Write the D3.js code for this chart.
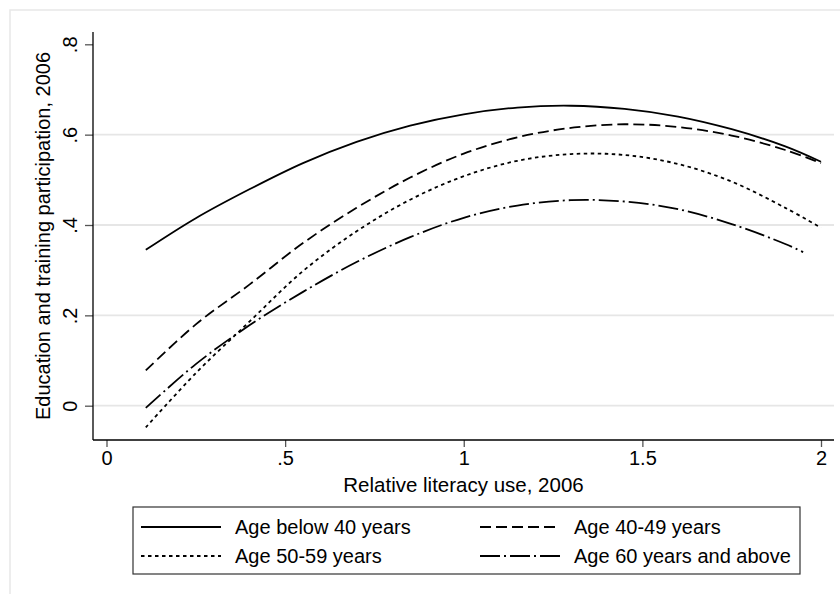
<!DOCTYPE html>
<html lang="en">
	<head>
		<meta charset="UTF-8" />
		<title>Education and training participation by literacy use</title>
		<style>
			html,
			body {
				margin: 0;
				padding: 0;
				background-color: #ffffff;
				font-family: 'Liberation Sans', Arial, sans-serif;
			}

			svg text {
				fill: #000;
			}
		</style>
	</head>
	<body>
		<svg id="chart"></svg>

		<script src="https://d3js.org/d3.v7.min.js"></script>

		<script>
			const width = 840;
			const height = 594;

			// values
			const xValues = [0.11, 0.25, 0.4, 0.55, 0.7, 0.85, 1.0, 1.15, 1.3, 1.45, 1.6, 1.75, 1.9, 2.0];
			const below40 = [0.345, 0.415, 0.479, 0.537, 0.584, 0.62, 0.645, 0.66, 0.664, 0.657, 0.64, 0.612, 0.574, 0.54];
			const age4049 = [0.078, 0.18, 0.268, 0.36, 0.438, 0.505, 0.558, 0.594, 0.615, 0.623, 0.617, 0.598, 0.566, 0.537];
			const age5059 = [-0.048, 0.072, 0.186, 0.298, 0.386, 0.456, 0.508, 0.542, 0.557, 0.555, 0.535, 0.496, 0.438, 0.394];
			const x60plus = [0.11, 0.25, 0.4, 0.55, 0.7, 0.85, 1.0, 1.15, 1.3, 1.45, 1.6, 1.75, 1.9, 1.95];
			const age60plus = [-0.005, 0.092, 0.178, 0.252, 0.318, 0.373, 0.416, 0.443, 0.455, 0.452, 0.435, 0.402, 0.358, 0.34];

			const xTicks = [0, 0.5, 1, 1.5, 2];
			const xTickLabels = ['0', '.5', '1', '1.5', '2'];
			const yTicks = [0, 0.2, 0.4, 0.6, 0.8];
			const yTickLabels = ['0', '.2', '.4', '.6', '.8'];
			const gridTicks = [0, 0.2, 0.4, 0.6];

			const seriesNames = ['Age below 40 years', 'Age 40-49 years', 'Age 50-59 years', 'Age 60 years and above'];

			const series = [
				{ name: seriesNames[0], xs: xValues, ys: below40, dash: null },
				{ name: seriesNames[1], xs: xValues, ys: age4049, dash: '11,5' },
				{ name: seriesNames[2], xs: xValues, ys: age5059, dash: '3.5,3.5' },
				{ name: seriesNames[3], xs: x60plus, ys: age60plus, dash: '20,4,2,4' }
			];

			const plot = { left: 93, right: 834, top: 32, bottom: 440 };

			const svg = d3.select('#chart').attr('width', width).attr('height', height);

			// faint outer frame
			svg.append('path')
				.attr('d', `M10,${height} V10 H${width}`)
				.attr('fill', 'none')
				.attr('stroke', '#e8e8e8')
				.attr('stroke-width', 1.5);

			const x = d3.scaleLinear().domain([0, 2]).range([106.5, 821]);
			const y = d3.scaleLinear().domain([0, 0.8]).range([405.7, 44.3]);

			// gridlines
			svg.append('g')
				.selectAll('line')
				.data(gridTicks)
				.join('line')
				.attr('x1', plot.left)
				.attr('x2', plot.right)
				.attr('y1', (d) => y(d))
				.attr('y2', (d) => y(d))
				.attr('stroke', '#e6e6e6')
				.attr('stroke-width', 1.8);

			// x axis
			const xAxis = svg.append('g')
				.attr('transform', `translate(0,${plot.bottom})`)
				.call(
					d3.axisBottom(x)
						.tickValues(xTicks)
						.tickFormat((d, i) => xTickLabels[i])
						.tickSize(7)
				);
			xAxis.select('.domain').remove();
			xAxis.selectAll('.tick line').attr('stroke', '#555').attr('stroke-width', 1.3);
			xAxis.selectAll('.tick text')
				.attr('font-size', 20)
				.attr('font-family', "'Liberation Sans', Arial, sans-serif")
				.attr('dy', 0)
				.attr('y', 25);

			// y axis
			const yAxis = svg.append('g')
				.attr('transform', `translate(${plot.left},0)`)
				.call(
					d3.axisLeft(y)
						.tickValues(yTicks)
						.tickFormat((d, i) => yTickLabels[i])
						.tickSize(8)
				);
			yAxis.select('.domain').remove();
			yAxis.selectAll('.tick line').attr('stroke', '#555').attr('stroke-width', 1.3);
			yAxis.selectAll('.tick text')
				.attr('font-size', 20)
				.attr('font-family', "'Liberation Sans', Arial, sans-serif")
				.attr('x', null)
				.attr('dy', null)
				.attr('text-anchor', 'middle')
				.attr('transform', 'translate(-16,0) rotate(-90)');

			// axis lines
			svg.append('line')
				.attr('x1', plot.left)
				.attr('x2', plot.right)
				.attr('y1', plot.bottom)
				.attr('y2', plot.bottom)
				.attr('stroke', '#000')
				.attr('stroke-width', 1.3);
			svg.append('line')
				.attr('x1', plot.left)
				.attr('x2', plot.left)
				.attr('y1', plot.top)
				.attr('y2', plot.bottom)
				.attr('stroke', '#000')
				.attr('stroke-width', 1.3);

			// axis titles
			svg.append('text')
				.attr('x', (plot.left + plot.right) / 2)
				.attr('y', 492)
				.attr('text-anchor', 'middle')
				.attr('font-size', 20.5)
				.text('Relative literacy use, 2006');

			svg.append('text')
				.attr('transform', `translate(50,${(plot.top + plot.bottom) / 2}) rotate(-90)`)
				.attr('text-anchor', 'middle')
				.attr('font-size', 20)
				.text('Education and training participation, 2006');

			// curves
			const line = d3
				.line()
				.x((d) => x(d[0]))
				.y((d) => y(d[1]))
				.curve(d3.curveCatmullRom);

			svg.append('g')
				.selectAll('path')
				.data(series)
				.join('path')
				.attr('d', (s) => line(s.xs.map((v, i) => [v, s.ys[i]])))
				.attr('fill', 'none')
				.attr('stroke', '#000')
				.attr('stroke-width', 1.8)
				.attr('stroke-dasharray', (s) => s.dash);

			// legend
			const legend = svg.append('g');
			legend.append('rect')
				.attr('x', 133)
				.attr('y', 507)
				.attr('width', 667)
				.attr('height', 67)
				.attr('fill', '#fff')
				.attr('stroke', '#333')
				.attr('stroke-width', 1.2);

			const legendPos = [
				{ sx: 141, ty: 527 },
				{ sx: 480, ty: 527 },
				{ sx: 141, ty: 556 },
				{ sx: 480, ty: 556 }
			];

			const items = legend
				.selectAll('g.item')
				.data(series)
				.join('g')
				.attr('class', 'item')
				.attr('transform', (s, i) => `translate(${legendPos[i].sx},${legendPos[i].ty})`);

			items.append('line')
				.attr('x1', 0)
				.attr('x2', 80)
				.attr('stroke', '#000')
				.attr('stroke-width', 1.8)
				.attr('stroke-dasharray', (s) => s.dash);

			items.append('text')
				.attr('x', 94)
				.attr('dy', '0.36em')
				.attr('font-size', 20)
				.text((s) => s.name);
		</script>
	</body>
</html>
